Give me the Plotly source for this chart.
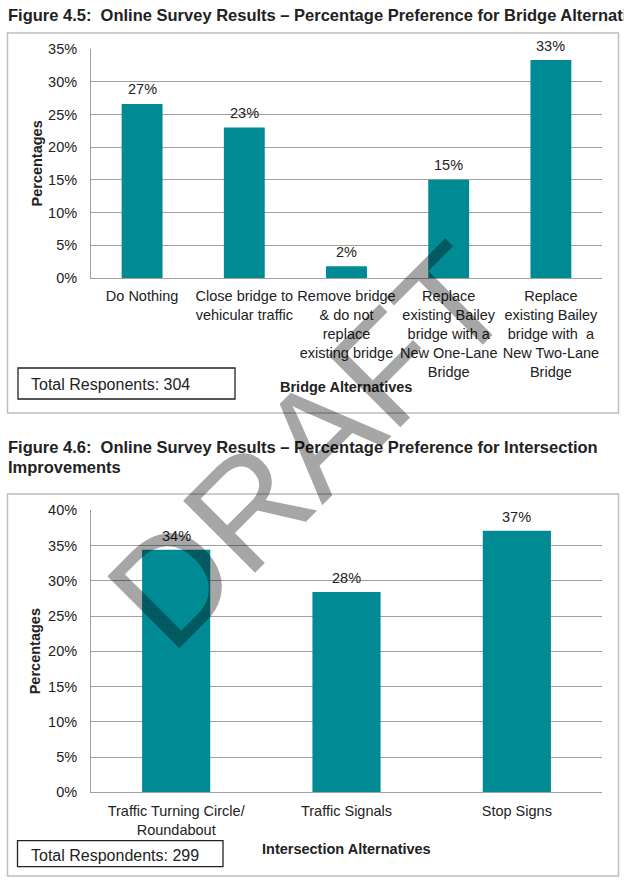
import plotly.graph_objects as go

# ---------------- data ----------------
bridge_categories = [
    "Do Nothing",
    "Close bridge to<br>vehicular traffic",
    "Remove bridge<br>& do not<br>replace<br>existing bridge",
    "Replace<br>existing Bailey<br>bridge with a<br>New One-Lane<br>Bridge",
    "Replace<br>existing Bailey<br>bridge with\u00a0 a<br>New Two-Lane<br>Bridge",
]
bridge_values = [26.6, 23.0, 1.8, 15.0, 33.3]
bridge_ticks = [0, 5, 10, 15, 20, 25, 30, 35]

intersection_categories = [
    "Traffic Turning Circle/<br>Roundabout",
    "Traffic Signals",
    "Stop Signs",
]
intersection_values = [34.4, 28.4, 37.1]
intersection_ticks = [0, 5, 10, 15, 20, 25, 30, 35, 40]

title_1 = "Figure 4.5:\u00a0 Online Survey Results \u2013 Percentage Preference for Bridge Alternatives"
title_2a = "Figure 4.6:\u00a0 Online Survey Results \u2013 Percentage Preference for Intersection"
title_2b = "Improvements"
respondents_1 = "Total Responents: 304"
respondents_2 = "Total Respondents: 299"

# ---------------- style ----------------
W, H = 624, 882
TEAL = "rgb(0,138,148)"
GRID = "rgb(160,160,160)"
FONT = "Arial, Liberation Sans, sans-serif"
FS = 14.5
TXT = "#222"


def px(x):
    return x / W


def py(y):
    return 1 - y / H


fig = go.Figure()

fig.add_trace(go.Bar(
    x=bridge_categories, y=bridge_values,
    marker=dict(color=TEAL, line=dict(width=0)),
    xaxis="x", yaxis="y", showlegend=False, hoverinfo="skip",
))
fig.add_trace(go.Bar(
    x=intersection_categories, y=intersection_values,
    marker=dict(color=TEAL, line=dict(width=0)),
    xaxis="x2", yaxis="y2", showlegend=False, hoverinfo="skip",
))

xcommon = dict(
    showline=True, linecolor=GRID, linewidth=1, showgrid=False,
    ticks="", tickangle=0, tickfont=dict(family=FONT, size=FS, color=TXT),
    ticklabelstandoff=5, fixedrange=True, automargin=False,
)
ycommon = dict(
    showline=True, linecolor=GRID, linewidth=1, showgrid=True,
    gridcolor=GRID, gridwidth=1, zeroline=False, ticks="",
    tickfont=dict(family=FONT, size=FS, color=TXT),
    ticklabelstandoff=10, fixedrange=True, automargin=False,
)

fig.update_layout(
    width=W, height=H,
    margin=dict(l=0, r=0, t=0, b=0, pad=0, autoexpand=False),
    paper_bgcolor="white", plot_bgcolor="white",
    bargap=0.6, showlegend=False,
    xaxis=dict(domain=[px(91), px(602)], anchor="y", **xcommon),
    yaxis=dict(domain=[py(278), py(49)], anchor="x", range=[0, 35],
               tickmode="array", tickvals=bridge_ticks,
               ticktext=[f"{t}%" for t in bridge_ticks], **ycommon),
    xaxis2=dict(domain=[px(91), px(602)], anchor="y2", **xcommon),
    yaxis2=dict(domain=[py(792.3), py(510.3)], anchor="x2", range=[0, 40],
                tickmode="array", tickvals=intersection_ticks,
                ticktext=[f"{t}%" for t in intersection_ticks], **ycommon),
    font=dict(family=FONT, color=TXT),
)

shapes = [
    # outer frames
    dict(type="rect", xref="paper", yref="paper", x0=px(7.5), x1=px(618.5), y0=py(413), y1=py(33),
         line=dict(color="rgb(190,190,190)", width=1.5), layer="below"),
    dict(type="rect", xref="paper", yref="paper", x0=px(7.5), x1=px(618.5), y0=py(876), y1=py(494),
         line=dict(color="rgb(190,190,190)", width=1.5), layer="below"),
    # respondents boxes
    dict(type="rect", xref="paper", yref="paper", x0=px(18), x1=px(235), y0=py(399), y1=py(368),
         line=dict(color=TXT, width=1.3)),
    dict(type="rect", xref="paper", yref="paper", x0=px(17.5), x1=px(223), y0=py(866.7), y1=py(840.7),
         line=dict(color=TXT, width=1.3)),
]
fig.update_layout(shapes=shapes)


def ann(text, x, y, size, bold=False, xanchor="center", angle=0, color=TXT):
    return dict(text=f"<b>{text}</b>" if bold else text, xref="paper", yref="paper",
                x=px(x), y=py(y), xanchor=xanchor, yanchor="middle", showarrow=False,
                textangle=angle, font=dict(family=FONT, size=size, color=color))


annotations = []
# value labels above bars, positioned through the data axes
for cat, v in zip(bridge_categories, bridge_values):
    annotations.append(dict(text=f"{round(v)}%", x=cat, y=v, xref="x", yref="y",
                            yanchor="middle", yshift=14.5, showarrow=False,
                            font=dict(family=FONT, size=FS, color=TXT)))
for cat, v in zip(intersection_categories, intersection_values):
    annotations.append(dict(text=f"{round(v)}%", x=cat, y=v, xref="x2", yref="y2",
                            yanchor="middle", yshift=14, showarrow=False,
                            font=dict(family=FONT, size=FS, color=TXT)))

annotations += [
    ann(title_1, 6, 15, 16.5, bold=True, xanchor="left"),
    ann(title_2a, 6, 447, 16.5, bold=True, xanchor="left"),
    ann(title_2b, 6, 466.5, 16.5, bold=True, xanchor="left"),
    ann("Percentages", 36, 163.5, FS, bold=True, angle=-90),
    ann("Percentages", 35, 651.3, FS, bold=True, angle=-90),
    ann("Bridge Alternatives", 346, 387, FS, bold=True),
    ann("Intersection Alternatives", 346.5, 849, FS, bold=True),
    ann(respondents_1, 29, 384, 16, xanchor="left"),
    ann(respondents_2, 29, 855, 16, xanchor="left"),
    # DRAFT watermark
    dict(text="DRAFT", xref="paper", yref="paper", x=px(308), y=py(446),
         xanchor="center", yanchor="middle", showarrow=False, textangle=-45,
         font=dict(family=FONT, size=148, color="rgba(0,0,0,0.35)")),
]
fig.update_layout(annotations=annotations)

fig.write_html("out.html")
